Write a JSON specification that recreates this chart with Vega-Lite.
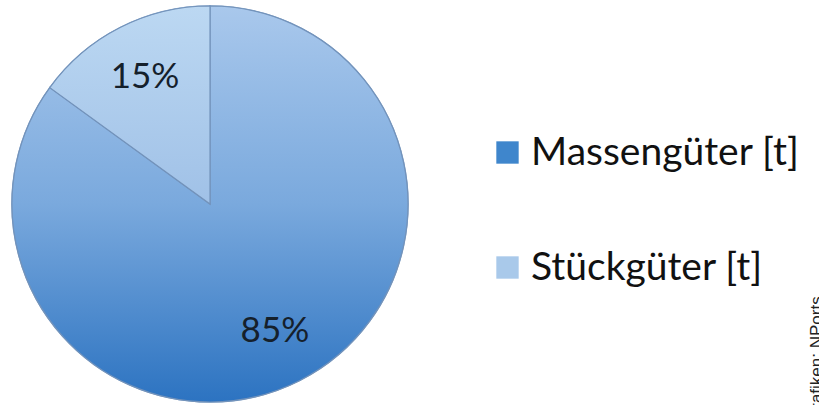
{
  "$schema": "https://vega.github.io/schema/vega-lite/v6.json",
  "width": 420,
  "height": 402,
  "autosize": {"type": "none"},
  "padding": {"left": 0, "top": 3, "right": 399, "bottom": 0},
  "background": "white",
  "title": {
    "text": "Grafiken: NPorts",
    "orient": "right",
    "anchor": "end",
    "frame": "group",
    "angle": 270,
    "align": "left",
    "baseline": "top",
    "offset": -8,
    "dx": -17,
    "font": "Liberation Sans",
    "fontSize": 17,
    "fontWeight": "normal",
    "color": "#222222"
  },
  "data": {
    "values": [
      {"Kategorie": "Massengüter [t]", "Anteil": 85, "Label": "85%"},
      {"Kategorie": "Stückgüter [t]", "Anteil": 15, "Label": "15%"}
    ]
  },
  "transform": [
    {"stack": "Anteil", "groupby": [], "sort": [{"field": "Kategorie"}], "as": ["t0", "t1"]}
  ],
  "layer": [
    {
      "mark": {"type": "arc", "radius": 198, "stroke": "#7f9fc4", "strokeWidth": 1.5},
      "encoding": {
        "theta": {"field": "t0", "type": "quantitative", "scale": {"domain": [0, 100]}},
        "theta2": {"field": "t1"},
        "color": {
          "field": "Kategorie",
          "type": "nominal",
          "scale": {"domain": ["Massengüter [t]", "Stückgüter [t]"], "range": ["#3f86cc", "#a9c9ea"]},
          "legend": {
            "title": null,
            "orient": "none",
            "legendX": 488,
            "legendY": 130,
            "padding": 0,
            "symbolType": "square",
            "symbolSize": 500,
            "symbolStrokeWidth": 0,
            "labelFont": "Lato",
            "labelFontSize": 39,
            "labelColor": "#111111",
            "labelOffset": 4,
            "labelLimit": 400,
            "rowPadding": 75
          }
        }
      }
    },
    {
      "transform": [{"filter": "datum.Kategorie === 'Massengüter [t]'"}],
      "mark": {
        "type": "arc",
        "radius": 198,
        "stroke": "#7393bb",
        "strokeWidth": 1.2,
        "fill": {
          "gradient": "linear",
          "x1": 0, "y1": 0, "x2": 0, "y2": 1,
          "stops": [
            {"offset": 0, "color": "#a9c8ec"},
            {"offset": 0.5, "color": "#7aa9dd"},
            {"offset": 1, "color": "#2c73c1"}
          ]
        }
      },
      "encoding": {
        "theta": {"field": "t0", "type": "quantitative", "scale": {"domain": [0, 100]}},
        "theta2": {"field": "t1"}
      }
    },
    {
      "transform": [{"filter": "datum.Kategorie === 'Stückgüter [t]'"}],
      "mark": {
        "type": "arc",
        "radius": 198,
        "stroke": "#7393bb",
        "strokeWidth": 1.2,
        "fill": {
          "gradient": "linear",
          "x1": 0, "y1": 0, "x2": 0, "y2": 1,
          "stops": [
            {"offset": 0, "color": "#bcd8f2"},
            {"offset": 1, "color": "#a0c1e7"}
          ]
        }
      },
      "encoding": {
        "theta": {"field": "t0", "type": "quantitative", "scale": {"domain": [0, 100]}},
        "theta2": {"field": "t1"}
      }
    },
    {
      "mark": {"type": "text", "radius": 143, "font": "Lato", "fontSize": 35, "fill": "#15202b"},
      "encoding": {
        "theta": {"field": "Anteil", "type": "quantitative", "stack": true, "scale": {"domain": [0, 100]}},
        "order": {"field": "t0", "type": "quantitative", "sort": "ascending"},
        "text": {"field": "Label"}
      }
    }
  ]
}
